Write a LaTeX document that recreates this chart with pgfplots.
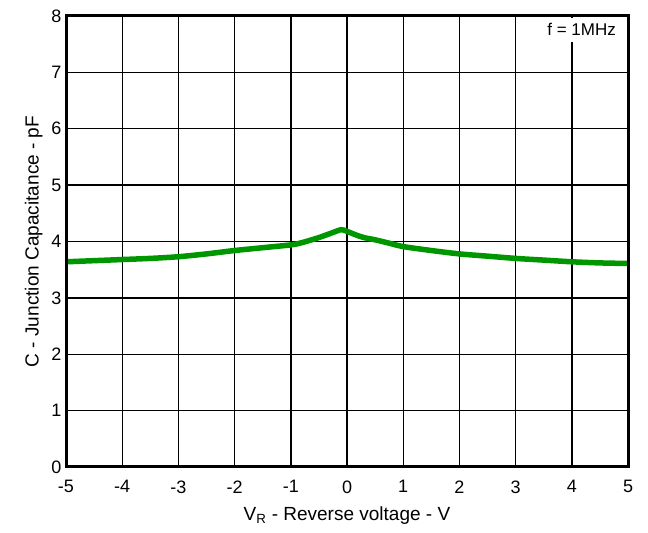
\documentclass[border=0pt]{standalone}
\usepackage{fontspec}
\setmainfont{Liberation Sans}
\usepackage{pgfplots}
\pgfplotsset{compat=1.18}
\definecolor{curvegreen}{RGB}{0,150,0}
\begin{document}
\begin{tikzpicture}
\begin{axis}[
    scale only axis,
    width=562bp, height=451bp,
    xmin=-5, xmax=5, ymin=0, ymax=8,
    xtick={-5,...,5}, ytick={0,...,8},
    grid=major,
    major grid style={black, line width=1.4bp},
    axis line style={black, line width=3bp},
    major tick length=0pt,
    /pgf/number format/assume math mode=true,
    tick label style={font=\fontsize{18bp}{20bp}\selectfont},
    xticklabel style={yshift=-10bp},
    yticklabel style={xshift=-1bp},
    label style={font=\fontsize{19bp}{21bp}\selectfont},
    xlabel={V\textsubscript{R} - Reverse voltage - V},
    ylabel={C - Junction Capacitance - pF},
    xlabel style={yshift=-7bp},
    ylabel style={yshift=2bp},
    clip=false,
  ]
  \addplot[curvegreen, line width=5.5bp, smooth, tension=0.5] coordinates {
    (-5,3.64) (-4.5,3.66) (-4,3.68) (-3.5,3.70) (-3,3.73) (-2.5,3.78)
    (-2,3.84) (-1.5,3.89) (-1,3.94) (-0.8,3.98) (-0.5,4.07) (-0.25,4.16)
    (-0.1,4.21) (0,4.18) (0.15,4.12) (0.3,4.07) (0.5,4.03) (0.75,3.97)
    (1,3.91) (1.5,3.84) (2,3.78) (2.5,3.74) (3,3.70) (3.5,3.67)
    (4,3.64) (4.5,3.62) (5,3.61)
  };
  \node[anchor=north east, fill=white, inner xsep=3bp, inner ysep=6bp,
        font=\fontsize{17bp}{19bp}\selectfont]
    at ([xshift=-9bp,yshift=-1.5bp]rel axis cs:1,1) {f = 1MHz};
  \draw[black, line width=3bp] (rel axis cs:0,0) rectangle (rel axis cs:1,1);
\end{axis}
\useasboundingbox ([shift={(-66bp,-66bp)}]current axis.south west)
  rectangle ([shift={(20bp,16bp)}]current axis.north east);
\end{tikzpicture}
\end{document}
